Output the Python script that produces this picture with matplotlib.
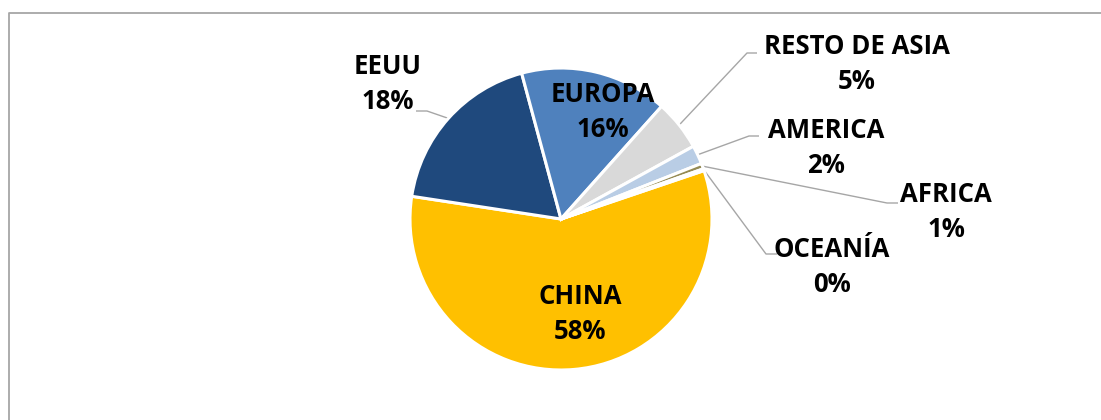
import numpy as np
import matplotlib
matplotlib.use("Agg")
import matplotlib.pyplot as plt
from matplotlib.lines import Line2D

# datos (% del total)
regiones = ["CHINA", "EEUU", "EUROPA", "RESTO DE ASIA", "AMERICA", "AFRICA", "OCEANÍA"]
valores = [57.6, 18.4, 15.8, 5.4, 2.0, 0.6, 0.2]
colores = ["#FFC000", "#1F497D", "#4F81BD", "#D9D9D9", "#B9CDE5", "#948A54", "#C0504D"]

W, H = 1101, 420
fig = plt.figure(figsize=(W / 100, H / 100), dpi=100)
ax = fig.add_axes([0, 0, 1, 1])

cx, cy, r = 561, H - 219, 151
wedges, _ = ax.pie(valores, colors=colores, startangle=18.7, counterclock=False,
                   center=(cx, cy), radius=r,
                   wedgeprops=dict(edgecolor="white", linewidth=2.2))
ax.set_xlim(0, W)
ax.set_ylim(0, H)
ax.set_aspect("auto")
ax.axis("off")

fuente = dict(family=["Open Sans", "DejaVu Sans"], fontsize=18.5, fontweight="bold",
              ha="center", va="center", linespacing=1.4, color="black")

# posicion de cada etiqueta (px imagen) y codo de la linea guia
etiquetas = {
    "CHINA": (580, 314, None),
    "EEUU": (388, 84, (416, 427, 111)),
    "EUROPA": (603, 112, None),
    "RESTO DE ASIA": (857, 64, (757, 747, 53)),
    "AMERICA": (826, 148, (759, 749, 136)),
    "AFRICA": (946, 212, (898, 887, 203)),
    "OCEANÍA": (832, 267, (777, 766, 254)),
}

total = sum(valores)
for w, nombre, v in zip(wedges, regiones, valores):
    x, y, guia = etiquetas[nombre]
    ax.text(x, H - y, f"{nombre}\n{round(v / total * 100):.0f}%", **fuente)
    if guia:
        ang = np.deg2rad((w.theta1 + w.theta2) / 2)
        px, py = cx + r * np.cos(ang), cy + r * np.sin(ang)
        x0, x1, yy = guia
        ax.plot([x0, x1, px], [H - yy, H - yy, py], color="#A6A6A6", lw=1.0,
                solid_capstyle="butt", zorder=0)

# marco del grafico (solo izquierda y arriba quedan visibles)
bx, by = 8.5 / W, (H - 12.5) / H
fig.lines.append(Line2D([bx, bx, 1.0], [0.0, by, by], transform=fig.transFigure,
                        color="#A6A6A6", lw=1.3))

fig.savefig("out.png", dpi=100)
